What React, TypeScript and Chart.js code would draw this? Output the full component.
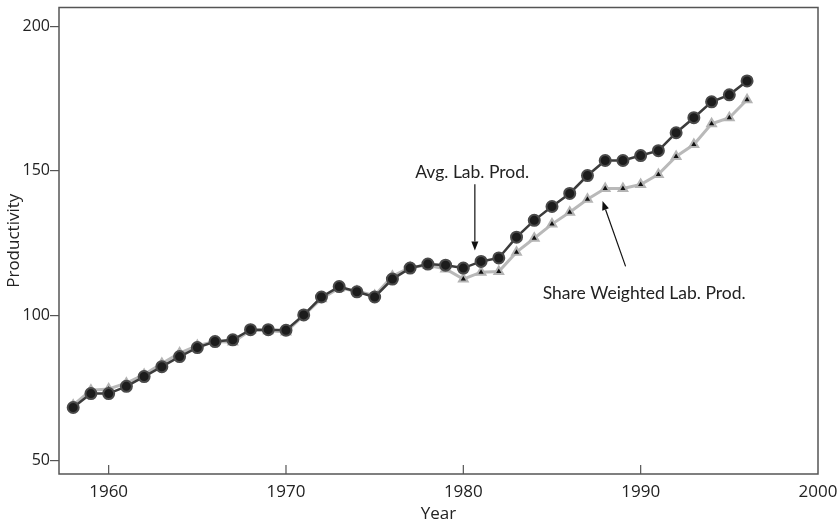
import React, { useEffect, useRef } from "react";
import { Chart, registerables } from "chart.js";

Chart.register(...registerables);

const years = [
  1958, 1959, 1960, 1961, 1962, 1963, 1964, 1965, 1966, 1967, 1968, 1969, 1970,
  1971, 1972, 1973, 1974, 1975, 1976, 1977, 1978, 1979, 1980, 1981, 1982, 1983,
  1984, 1985, 1986, 1987, 1988, 1989, 1990, 1991, 1992, 1993, 1994, 1995, 1996,
];

const avgLabProd = [
  68.2, 73.0, 73.0, 75.5, 78.9, 82.3, 85.8, 88.9, 91.0, 91.6, 95.1, 95.1, 94.9,
  100.2, 106.4, 110.0, 108.2, 106.4, 112.6, 116.4, 117.8, 117.4, 116.4, 118.7,
  119.9, 127.1, 132.9, 137.7, 142.2, 148.4, 153.6, 153.6, 155.3, 157.0, 163.2,
  168.4, 173.9, 176.3, 181.1,
];

const shareWeightedLabProd = [
  69.0, 74.2, 74.6, 76.6, 79.6, 83.4, 87.0, 89.6, 91.0, 90.8, 94.9, 94.7, 94.3,
  100.0, 105.8, 109.5, 108.4, 106.9, 113.6, 116.6, 117.4, 116.1, 112.6, 115.0,
  115.2, 121.9, 126.7, 131.6, 135.7, 140.2, 143.9, 143.9, 145.3, 148.8, 155.0,
  159.1, 166.3, 168.4, 174.6,
];

const xTicks = [1960, 1970, 1980, 1990, 2000];
const yTicks = [50, 100, 150, 200];

const xTitle = "Year";
const yTitle = "Productivity";

const annotations = [
  { text: "Avg. Lab. Prod.", tx: 1980.5, ty: 149.5, from: [1980.65, 145.4], to: [1980.65, 122.5] },
  { text: "Share Weighted Lab. Prod.", tx: 1990.2, ty: 107.6, from: [1989.15, 117.0], to: [1987.85, 139.6] },
];

const frameColor = "#555555";
const axisFont = "Open Sans";
const noteFont = "17.5px Lato";

const framePlugin = {
  id: "framePlugin",
  afterDatasetsDraw(chart: any) {
    const { ctx, chartArea, scales } = chart;
    const x = scales.x;
    const y = scales.y;
    ctx.save();
    ctx.strokeStyle = "#111";
    ctx.font = noteFont;
    ctx.textAlign = "center";
    ctx.textBaseline = "middle";
    for (const a of annotations) {
      ctx.fillStyle = "#222";
      ctx.fillText(a.text, x.getPixelForValue(a.tx), y.getPixelForValue(a.ty));
      const x1 = x.getPixelForValue(a.from[0]);
      const y1 = y.getPixelForValue(a.from[1]);
      const x2 = x.getPixelForValue(a.to[0]);
      const y2 = y.getPixelForValue(a.to[1]);
      const ang = Math.atan2(y2 - y1, x2 - x1);
      const hl = 9;
      const hw = 3.5;
      const bx = x2 - hl * Math.cos(ang);
      const by = y2 - hl * Math.sin(ang);
      ctx.lineWidth = 1.2;
      ctx.beginPath();
      ctx.moveTo(x1, y1);
      ctx.lineTo(bx, by);
      ctx.stroke();
      ctx.beginPath();
      ctx.moveTo(x2, y2);
      ctx.lineTo(bx + hw * Math.sin(ang), by - hw * Math.cos(ang));
      ctx.lineTo(bx - hw * Math.sin(ang), by + hw * Math.cos(ang));
      ctx.closePath();
      ctx.fillStyle = "#111";
      ctx.fill();
    }
    ctx.strokeStyle = frameColor;
    ctx.lineWidth = 1.5;
    ctx.strokeRect(chartArea.left, chartArea.top, chartArea.right - chartArea.left, chartArea.bottom - chartArea.top);
    ctx.lineWidth = 1.2;
    for (const t of xTicks) {
      const px = x.getPixelForValue(t);
      if (px <= chartArea.left + 1 || px >= chartArea.right - 1) continue;
      ctx.beginPath();
      ctx.moveTo(px, chartArea.bottom);
      ctx.lineTo(px, chartArea.bottom - 9);
      ctx.stroke();
    }
    ctx.restore();
  },
};

export default function App() {
  const ref = useRef<HTMLCanvasElement | null>(null);
  useEffect(() => {
    document.body.style.margin = "0";
    let chart: any = null;
    let cancelled = false;
    const build = () => {
      const canvas = ref.current;
      if (!canvas || cancelled) return;
      chart = new Chart(canvas, {
        type: "line",
        data: {
          datasets: [
            {
              label: "Avg. Lab. Prod.",
              data: years.map((yr, i) => ({ x: yr, y: avgLabProd[i] })),
              borderColor: "#3c3c3c",
              borderWidth: 2.5,
              pointStyle: "circle",
              pointRadius: 5.5,
              pointBackgroundColor: "#1c1c1c",
              pointBorderColor: "#4a4a4a",
              pointBorderWidth: 2,
              tension: 0,
              order: 0,
            },
            {
              label: "Share Weighted Lab. Prod.",
              data: years.map((yr, i) => ({ x: yr, y: shareWeightedLabProd[i] })),
              borderColor: "#b9b9b9",
              borderWidth: 3,
              pointStyle: "triangle",
              pointRadius: 5,
              pointBackgroundColor: "#111111",
              pointBorderColor: "#b4b4b4",
              pointBorderWidth: 2,
              tension: 0,
              order: 1,
            },
          ],
        },
        options: {
          animation: false,
          responsive: false,
          layout: { padding: { left: 0, right: 19, top: 5, bottom: 0 } },
          plugins: {
            legend: { display: false },
            tooltip: { enabled: false },
          },
          scales: {
            x: {
              type: "linear",
              min: 1957.2,
              max: 2000,
              afterBuildTicks: (s: any) => {
                s.ticks = xTicks.map((v) => ({ value: v }));
              },
              afterFit: (s: any) => {
                s.height = 50;
                s.paddingRight = 0;
                s.paddingLeft = 0;
              },
              grid: { display: false, drawTicks: false },
              border: { display: false },
              ticks: {
                padding: 8,
                color: "#222",
                font: { family: axisFont, size: 17 },
                maxRotation: 0,
                callback: (v: any) => String(v),
              },
              title: {
                display: true,
                text: xTitle,
                color: "#222",
                font: { family: axisFont, size: 17 },
                padding: { top: 0, bottom: 0 },
              },
            },
            y: {
              type: "linear",
              min: 45.2,
              max: 206.5,
              afterBuildTicks: (s: any) => {
                s.ticks = yTicks.map((v) => ({ value: v }));
              },
              afterFit: (s: any) => {
                s.width = 59;
                s.paddingTop = 0;
                s.paddingBottom = 0;
              },
              grid: {
                drawOnChartArea: false,
                drawTicks: true,
                tickLength: 9,
                color: frameColor,
                lineWidth: 1.2,
              },
              border: { display: false },
              ticks: {
                padding: 0,
                color: "#222",
                font: { family: axisFont, size: 16 },
                callback: (v: any) => String(v),
              },
              title: {
                display: true,
                text: yTitle,
                color: "#222",
                font: { family: axisFont, size: 17 },
                padding: { top: 4, bottom: 0 },
              },
            },
          },
        },
        plugins: [framePlugin],
      });
    };
    const fontsReady = (document as any).fonts
      ? Promise.all([
          (document as any).fonts.load("16px 'Open Sans'"),
          (document as any).fonts.load("17px 'Open Sans'"),
          (document as any).fonts.load(noteFont),
        ]).catch(() => null)
      : Promise.resolve(null);
    fontsReady.then(build);
    return () => {
      cancelled = true;
      if (chart) chart.destroy();
    };
  }, []);
  return (
    <div style={{ position: "absolute", left: 0, top: 0, width: 837, height: 524, background: "#fff" }}>
      <canvas ref={ref} width={837} height={524} style={{ width: 837, height: 524, display: "block" }} />
    </div>
  );
}
